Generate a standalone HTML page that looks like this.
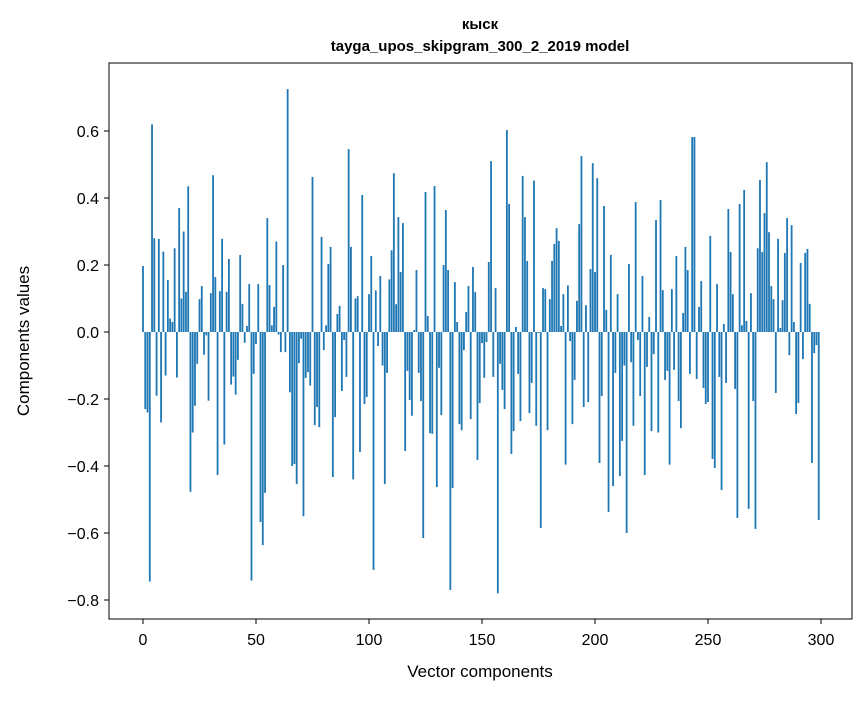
<!DOCTYPE html>
<html><head><meta charset="utf-8"><style>
html,body{margin:0;padding:0;background:#fff;}
svg text{font-family:"Liberation Sans","DejaVu Sans",sans-serif;fill:#000;}
</style></head><body>
<svg id="chart" width="867" height="696" viewBox="0 0 867 696" xmlns="http://www.w3.org/2000/svg">
<rect x="0" y="0" width="867" height="696" fill="#fff"/>
<text x="480" y="29" text-anchor="middle" font-size="15" font-weight="bold">кыск</text>
<text x="480" y="51" text-anchor="middle" font-size="15" font-weight="bold">tayga_upos_skipgram_300_2_2019 model</text>
<g id="bars"></g>
<rect x="109" y="63" width="743" height="556" fill="none" stroke="#000" stroke-width="1"/>
<g id="xticks"></g>
<g id="yticks"></g>
<text x="480" y="677" text-anchor="middle" font-size="17">Vector components</text>
<text transform="translate(29,341) rotate(-90)" text-anchor="middle" font-size="17">Components values</text>
</svg>
<script>
const values = [
0.197,-0.23,-0.24,-0.745,0.62,0.28,-0.19,0.278,-0.27,0.24,
-0.13,0.155,0.04,0.03,0.25,-0.136,0.37,0.10,0.30,0.12,
0.435,-0.477,-0.30,-0.22,-0.095,0.098,0.137,-0.068,-0.01,-0.205,
0.116,0.468,0.164,-0.427,0.122,0.278,-0.336,0.12,0.218,-0.157,
-0.133,-0.187,-0.083,0.23,0.084,-0.032,0.018,0.143,-0.742,-0.125,
-0.036,0.143,-0.567,-0.636,-0.48,0.34,0.14,0.02,0.075,0.27,
-0.008,-0.06,0.2,-0.06,0.725,-0.18,-0.40,-0.394,-0.454,-0.093,
-0.02,-0.55,-0.137,-0.12,-0.16,0.463,-0.278,-0.224,-0.284,0.284,
-0.054,0.02,0.203,0.254,-0.433,-0.254,0.054,0.078,-0.176,-0.024,
-0.134,0.546,0.254,-0.44,0.10,0.107,-0.358,0.409,-0.215,-0.194,
0.113,0.227,-0.71,0.124,-0.042,0.167,-0.10,-0.454,-0.122,0.157,
0.244,0.474,0.083,0.343,0.179,0.325,-0.355,-0.116,-0.203,-0.25,
0.006,0.185,-0.122,-0.206,-0.615,0.418,0.048,-0.302,-0.304,0.436,
-0.463,-0.107,-0.248,0.2,0.364,0.185,-0.77,-0.466,0.149,0.03,
-0.275,-0.293,-0.054,0.06,0.137,-0.26,0.194,0.119,-0.382,-0.212,
-0.033,-0.137,-0.03,0.209,0.51,-0.134,0.131,-0.78,-0.095,-0.173,
-0.23,0.603,0.382,-0.364,-0.296,0.015,-0.125,-0.266,0.466,0.343,
0.212,-0.242,-0.152,0.452,-0.28,-0.003,-0.585,0.131,0.128,-0.293,
0.098,0.212,0.263,0.31,0.272,0.018,0.113,-0.396,0.139,-0.027,
-0.275,-0.143,0.093,0.322,0.525,-0.224,0.08,-0.209,0.188,0.504,
0.179,0.459,-0.391,-0.191,0.376,0.066,-0.537,0.23,-0.46,-0.122,
0.113,-0.43,-0.325,-0.10,-0.6,0.203,-0.09,-0.28,0.388,-0.024,
-0.191,0.167,-0.427,-0.104,0.045,-0.296,-0.066,0.334,-0.3,0.394,
0.125,-0.143,-0.116,-0.396,0.128,-0.113,0.227,-0.206,-0.287,0.057,
0.254,0.185,-0.125,0.582,0.582,-0.14,0.075,0.152,-0.167,-0.215,
-0.209,0.287,-0.379,-0.406,0.143,-0.134,-0.472,0.024,-0.152,0.367,
0.239,0.113,-0.17,-0.555,0.382,0.02,0.424,0.033,-0.528,0.116,
-0.206,-0.588,0.25,0.454,0.239,0.355,0.507,0.298,0.137,0.098,
-0.182,0.278,0.012,0.095,0.236,0.34,-0.069,0.319,0.03,-0.245,
-0.212,0.206,-0.081,0.236,0.248,0.084,-0.391,-0.063,-0.039,-0.561
];
const xTicks = [0,50,100,150,200,250,300];
const yTicks = [-0.8,-0.6,-0.4,-0.2,0.0,0.2,0.4,0.6];
const yTickLabels = ["\u22120.8","\u22120.6","\u22120.4","\u22120.2","0.0","0.2","0.4","0.6"];

const NS = "http://www.w3.org/2000/svg";
function xs(i){ return 143 + (821-143)/300*i; }
function ys(v){ return 332 - 335*v; }
const bw = 0.8*(821-143)/300;

const bars = document.getElementById('bars');
values.forEach((v,i)=>{
  const r = document.createElementNS(NS,'rect');
  const y0 = ys(0), y1 = ys(v);
  r.setAttribute('x', xs(i)-bw/2);
  r.setAttribute('y', Math.min(y0,y1));
  r.setAttribute('width', bw);
  r.setAttribute('height', Math.abs(y1-y0));
  r.setAttribute('fill', '#1f77b4');
  
  
  bars.appendChild(r);
});

const xg = document.getElementById('xticks');
xTicks.forEach(t=>{
  const l = document.createElementNS(NS,'line');
  l.setAttribute('x1', xs(t)); l.setAttribute('x2', xs(t));
  l.setAttribute('y1', 619); l.setAttribute('y2', 624);
  l.setAttribute('stroke', '#000');
  
  
  xg.appendChild(l);
  const tx = document.createElementNS(NS,'text');
  tx.setAttribute('x', xs(t)); tx.setAttribute('y', 645);
  tx.setAttribute('text-anchor', 'middle'); tx.setAttribute('font-size', '16');
  tx.textContent = String(t);
  
  
  xg.appendChild(tx);
});

const yg = document.getElementById('yticks');
yTicks.forEach((t,k)=>{
  const l = document.createElementNS(NS,'line');
  l.setAttribute('x1', 104); l.setAttribute('x2', 109);
  l.setAttribute('y1', ys(t)); l.setAttribute('y2', ys(t));
  l.setAttribute('stroke', '#000');
  
  
  yg.appendChild(l);
  const tx = document.createElementNS(NS,'text');
  tx.setAttribute('x', 99); tx.setAttribute('y', ys(t)+6);
  tx.setAttribute('text-anchor', 'end'); tx.setAttribute('font-size', '16');
  tx.textContent = yTickLabels[k];
  
  
  yg.appendChild(tx);
});
</script>
</body></html>
